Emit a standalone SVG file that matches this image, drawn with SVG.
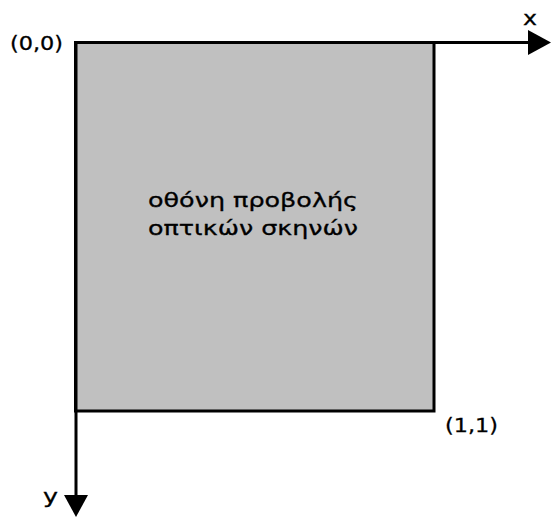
<svg xmlns="http://www.w3.org/2000/svg" width="551" height="517" viewBox="0 0 551 517">
<style>
.lbl{font-family:"DejaVu Sans","Liberation Sans",sans-serif;font-size:20px;fill:#000;stroke:#000;stroke-width:0.3}
.ax{stroke:#000;stroke-width:3;fill:none}
</style>
<rect width="551" height="517" fill="#fff"/>
<g id="screen">
<rect x="75.5" y="42.5" width="358.5" height="368.5" fill="#c0c0c0" stroke="#000" stroke-width="3"/>
<text class="lbl" x="148" y="207" textLength="210" lengthAdjust="spacingAndGlyphs">οθόνη προβολής</text>
<text class="lbl" x="148" y="235" textLength="210" lengthAdjust="spacingAndGlyphs">οπτικών σκηνών</text>
</g>
<g id="connectors">
<line class="ax" x1="75.5" y1="42.5" x2="530" y2="42.5"/>
<polygon points="528,30 551,42.5 528,55" fill="#000"/>
<line class="ax" x1="76" y1="42.5" x2="76" y2="497"/>
<polygon points="64,495 88,495 76,517" fill="#000"/>
</g>
<g id="labels">
<text class="lbl" x="10" y="50" textLength="53" lengthAdjust="spacingAndGlyphs">(0,0)</text>
<text class="lbl" x="523" y="25" textLength="14" lengthAdjust="spacingAndGlyphs">x</text>
<text class="lbl" x="43" y="503" textLength="15" lengthAdjust="spacingAndGlyphs">y</text>
<text class="lbl" x="445" y="432" textLength="53" lengthAdjust="spacingAndGlyphs">(1,1)</text>
</g>
</svg>
